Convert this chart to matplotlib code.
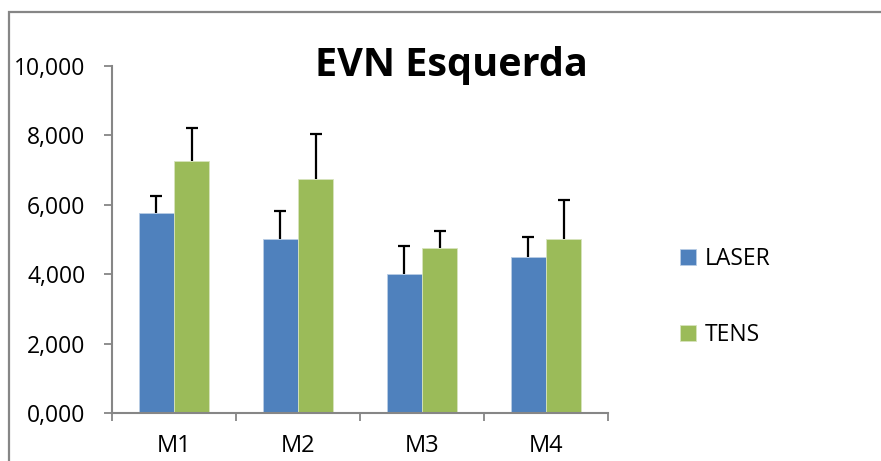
import numpy as np
import matplotlib.pyplot as plt
from matplotlib.patches import Rectangle
from matplotlib.ticker import FuncFormatter

# Data
categories = ['M1', 'M2', 'M3', 'M4']
laser = [5.75, 5.0, 4.0, 4.5]
laser_err = [0.5, 0.82, 0.82, 0.57]
tens = [7.25, 6.75, 4.75, 5.0]
tens_err = [0.97, 1.28, 0.5, 1.15]

blue = '#4F81BD'
green = '#9BBB59'
grey = '#868686'

plt.rcParams['font.family'] = ['Open Sans', 'DejaVu Sans']

fig = plt.figure(figsize=(8.81, 4.61), dpi=100)
ax = fig.add_axes([112/881, 48/461, 496/881, 347/461])

x = np.arange(len(categories))
w = 0.286
ekw = dict(ecolor='black', elinewidth=1.6, capsize=4.5, capthick=1.6)
b1 = ax.bar(x - w/2, laser, w, color=blue, edgecolor='#B9CDE5', linewidth=0.6,
            yerr=[np.zeros(4), laser_err], error_kw=ekw, label='LASER')
b2 = ax.bar(x + w/2, tens, w, color=green, edgecolor='#D7E4BD', linewidth=0.6,
            yerr=[np.zeros(4), tens_err], error_kw=ekw, label='TENS')
# only the upper caps (plus error bars)
for b in (b1, b2):
    caps = b.errorbar.lines[1]
    caps[0].set_visible(False)

ax.set_xlim(-0.5, 3.5)
ax.set_ylim(0, 10)
ax.set_yticks(np.arange(0, 11, 2))
ax.yaxis.set_major_formatter(FuncFormatter(lambda v, p: f'{v:.3f}'.replace('.', ',') if v < 10 else '10,000'))
ax.set_xticks(x)
ax.set_xticklabels(categories)
ax.set_xticks(np.arange(-0.5, 4, 1), minor=True)
ax.tick_params(axis='x', which='major', length=0, pad=15, labelsize=17)
ax.tick_params(axis='x', which='minor', length=6, width=1.3, color=grey, direction='out')
ax.tick_params(axis='y', length=6, width=1.3, color=grey, pad=13, labelsize=16.5)

for s in ['top', 'right']:
    ax.spines[s].set_visible(False)
for s in ['left', 'bottom']:
    ax.spines[s].set_color(grey)
    ax.spines[s].set_linewidth(1.5)

fig.text(451/881, (461-65)/461, 'EVN Esquerda', fontsize=28.5, fontweight='bold',
         ha='center', va='center')

ax.legend(loc='center left', bbox_to_anchor=(659/881, (461-297)/461),
          bbox_transform=fig.transFigure, frameon=False, fontsize=16.5,
          handlelength=0.7, handleheight=0.7, handletextpad=0.4,
          labelspacing=2.25)

fig.add_artist(Rectangle((9/881, -0.1), 1.0, (461-12)/461 + 0.1,
                         transform=fig.transFigure, fill=False,
                         edgecolor=grey, linewidth=1.6))

fig.savefig('out.png', dpi=100)
